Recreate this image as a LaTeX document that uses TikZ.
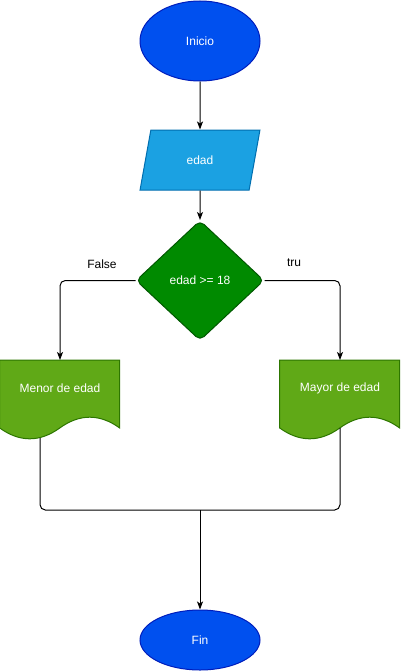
\documentclass[tikz,border=0pt]{standalone}
\usepackage{fontspec}
\setmainfont{Liberation Sans}
\usetikzlibrary{shapes.geometric,arrows.meta,positioning,backgrounds}

\definecolor{iniblue}{HTML}{0050EF}
\definecolor{iniborder}{HTML}{001DBC}
\definecolor{inblue}{HTML}{1BA1E2}
\definecolor{inborder}{HTML}{006EAF}
\definecolor{condgreen}{HTML}{008A00}
\definecolor{condborder}{HTML}{005700}
\definecolor{docgreen}{HTML}{60A917}
\definecolor{docborder}{HTML}{2D7600}

% outline of a document box, from its top left corner
\newcommand{\docoutline}{(0,0) -- (120,0) -- (120,68)
  .. controls (100,53.6) and (80,53.6) .. (60,68)
  .. controls (40,82.4) and (20,82.4) .. (0,68) -- cycle}

\begin{document}
\begin{tikzpicture}[
    x=0.75pt, y=-0.75pt,
    font=\fontsize{9pt}{11pt}\selectfont,
    terminal/.style={ellipse, draw=iniborder, fill=iniblue, line width=0.75pt, text=white, minimum width=90pt, inner sep=0pt},
    inputbox/.style={trapezium, trapezium left angle=71.565, trapezium right angle=108.435, trapezium stretches=true, draw=inborder, fill=inblue, line width=0.75pt, text=white, minimum width=90pt, minimum height=45pt, inner sep=0pt},
    decision/.style={diamond, draw=condborder, fill=condgreen, line width=0.75pt, rounded corners=4pt, text=white, minimum width=96pt, minimum height=90pt, inner sep=0pt},
    doc/.style={rectangle, text=white, minimum width=90pt, minimum height=42pt, inner sep=0pt},
    docfill/.style={draw=docborder, fill=docgreen, line width=0.75pt},
    label/.style={text=black},
    arrow/.style={-{Stealth[length=6pt, width=4.5pt, inset=1.5pt]}, line width=0.75pt},
    line/.style={line width=0.75pt, rounded corners=4pt}
]
\useasboundingbox (0,0) rectangle (401,671);

% Start
\node[terminal, minimum height=60pt] (inicio) at (200,41) {Inicio};

% Input
\node[inputbox] (edad) at (200,160) {edad};

% Decision
\node[decision] (cond) at (200,280.5) {edad >= 18};

% Outputs
\node[doc, anchor=north] (menor) at (60,360) {Menor de edad};
\node[doc, anchor=north] (mayor) at (340,360) {Mayor de edad};
\begin{scope}[on background layer]
  \path[docfill, shift={(menor.north west)}] \docoutline;
  \path[docfill, shift={(mayor.north west)}] \docoutline;
\end{scope}

% End
\node[terminal, minimum height=45pt] (fin) at (200,640) {Fin};

% Branch labels
\node[label] (lfalse) at (102,264) {False};
\node[label] (ltrue) at (294,263) {tru};

% Arrows
\draw[arrow] (inicio) -- (edad);
\draw[arrow] (edad) -- (cond);
\draw[arrow, rounded corners=4pt] (cond.west) -| (menor.north);
\draw[arrow, rounded corners=4pt] (cond.east) -| (mayor.north);

% Merge
\coordinate (menorout) at (40,438);
\coordinate (mayorout) at (340,428);
\coordinate (merge) at (200,510);
\draw[line] (menorout) |- (merge) -| (mayorout);
\draw[arrow] (merge) -- (fin);

\end{tikzpicture}
\end{document}
